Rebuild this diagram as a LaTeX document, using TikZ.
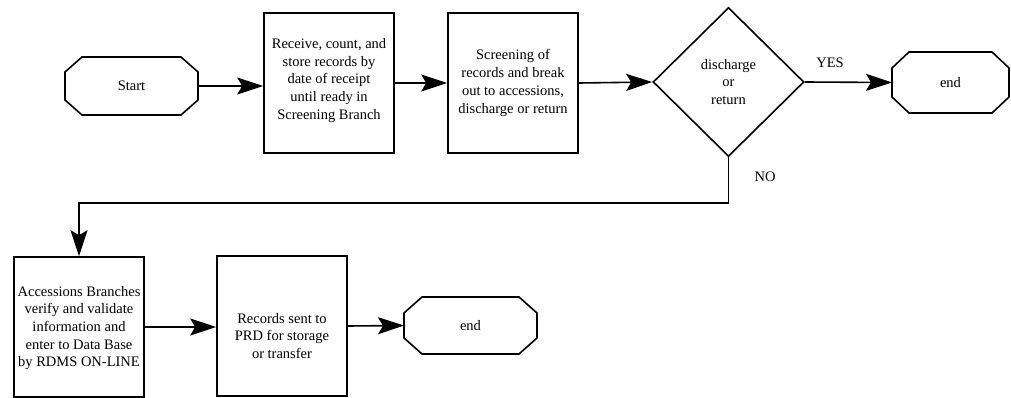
\documentclass[tikz,border=0pt]{standalone}
\usepackage{fontspec}
\setmainfont{Liberation Serif}
\usetikzlibrary{arrows.meta,shapes.geometric}

% octagonal terminator drawn round a named rectangle node: name, x chamfer, y chamfer
\newcommand\octbox[3]{%
  \draw[shapeline] ([xshift=#2]#1.north west) -- ([xshift=-#2]#1.north east)
    -- ([yshift=-#3]#1.north east) -- ([yshift=#3]#1.south east)
    -- ([xshift=-#2]#1.south east) -- ([xshift=#2]#1.south west)
    -- ([yshift=#3]#1.south west) -- ([yshift=-#3]#1.north west) -- cycle;}

\begin{document}
\begin{tikzpicture}[x=1pt,y=-1pt,
  font=\fontsize{14.5pt}{17.7pt}\selectfont,
  shapeline/.style={line width=1.6pt, line join=miter},
  procbox/.style={draw, shapeline, minimum width=130pt, minimum height=140pt, inner sep=0pt},
  boxtext/.style={align=center, inner sep=0pt},
  terminal/.style={inner sep=0pt, outer sep=0pt},
  decision/.style={draw, shapeline, diamond, minimum width=151pt, minimum height=149pt, inner sep=0pt, align=center},
  flow/.style={shapeline, -{Stealth[length=26pt,width=17pt,inset=5pt]}},
  lbl/.style={inner sep=0pt}]

\useasboundingbox (0,0) rectangle (1011,398);

% top row
\node[terminal, minimum width=133pt, minimum height=58pt] (start) at (131.5,86) {Start};
\octbox{start}{17pt}{15pt}

\node[procbox] (receive) at (329,83) {};
\node[boxtext] (receivetxt) at (329,80.5) {Receive, count, and\\store records by\\date of receipt\\until ready in\\Screening Branch};

\node[procbox] (screen) at (513,83) {};
\node[boxtext] (screentxt) at (513,83) {Screening of\\records and break\\out to accessions,\\discharge or return};

\node[decision] (dec) at (728.5,82) {discharge\\or\\return};

\node[terminal, minimum width=117pt, minimum height=61pt] (endA) at (950.5,82.5) {end};
\octbox{endA}{17pt}{16pt}

% bottom row
\node[procbox] (access) at (79,327) {};
\node[boxtext] (accesstxt) at (79,328) {Accessions Branches\\verify and validate\\information and\\enter to Data Base\\by RDMS ON-LINE};

\node[procbox] (prd) at (282,326) {};
\node[boxtext] (prdtxt) at (282,336) {Records sent to\\PRD for storage\\or transfer};

\node[terminal, minimum width=133pt, minimum height=57pt] (endB) at (470.5,325.5) {end};
\octbox{endB}{18pt}{16pt}

% connectors
\draw[flow] (start.east) -- (start.east -| receive.west);
\draw[flow] (receive.east) -- (screen.west);
\draw[flow] (screen.east) -- (dec.west);
\draw[flow] (dec.east) -- (endA.west);
\node[lbl] (yes) at (830,63) {YES};

\coordinate (nobend) at (728.5,203);
\draw[flow] (dec.south) -- (nobend) -| (access.north);
\node[lbl] (no) at (765,177) {NO};

\draw[flow] (access.east) -- (access.east -| prd.west);
\draw[flow] (prd.east) -- (endB.west);
\end{tikzpicture}
\end{document}
